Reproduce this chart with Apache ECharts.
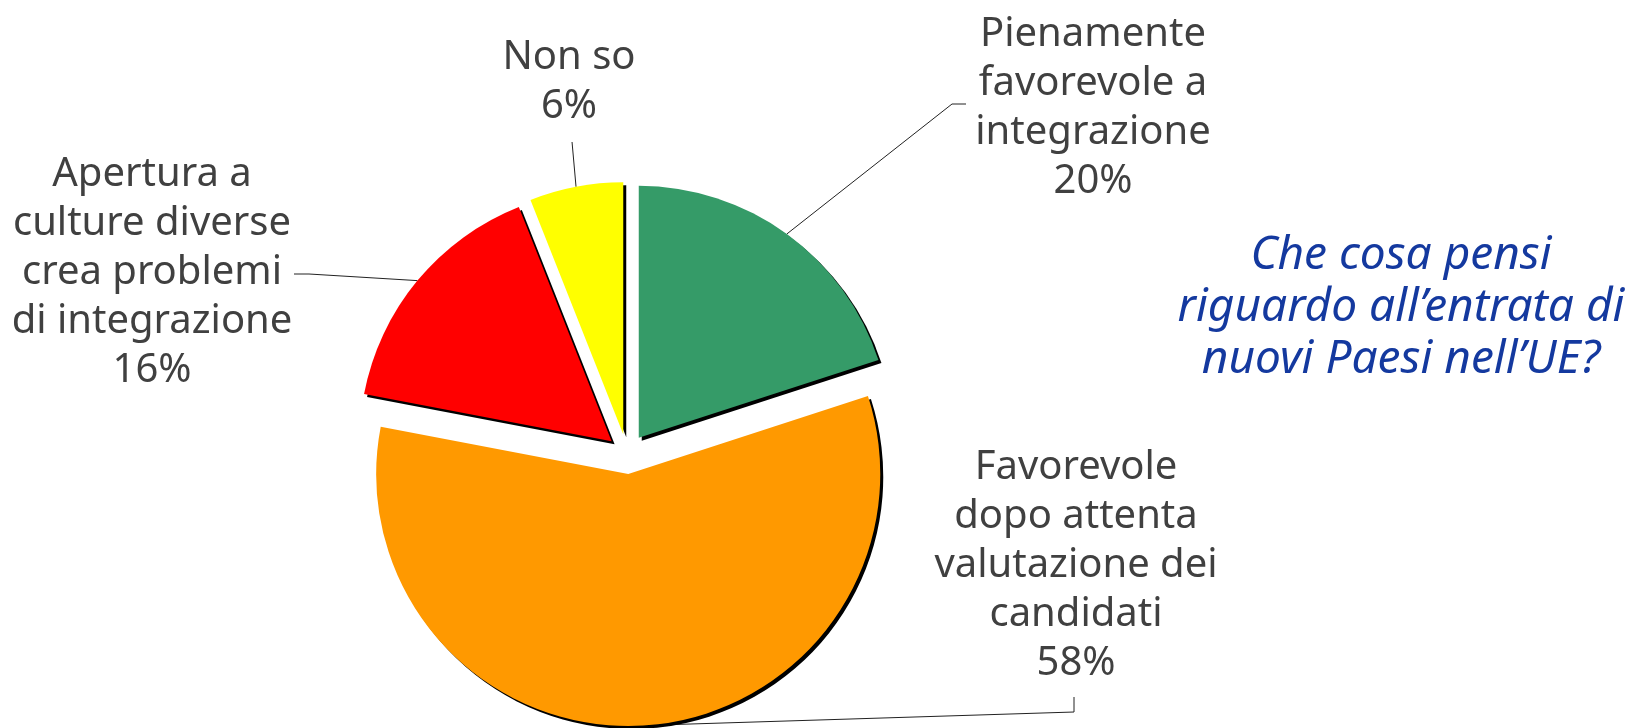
<!DOCTYPE html>
<html>
<head>
<meta charset="utf-8">
<script src="https://cdn.jsdelivr.net/npm/echarts@6/dist/echarts.min.js"></script>
<style>
  html, body { margin: 0; padding: 0; background: #fff; overflow: hidden; }
  #chart { width: 1627px; height: 728px; }
</style>
</head>
<body>
<div id="chart"></div>
<script>
// dati
var categories = [
  'Pienamente\nfavorevole a\nintegrazione',
  'Favorevole\ndopo attenta\nvalutazione dei\ncandidati',
  'Apertura a\nculture diverse\ncrea problemi\ndi integrazione',
  'Non so'
];
var values = [20, 58, 16, 6];
var colors = ['#359b68', '#ff9900', '#ff0000', '#ffff00'];
var question = 'Che cosa pensi\nriguardo all\u2019entrata di\nnuovi Paesi nell\u2019UE?';

// posizione etichette (centro del blocco) e pieghe delle linee guida
var labelPos = [[1093, 108], [1076, 566], [152, 273], [569, 82]];
var bends = [
  [[952, 104], [966, 104]],
  [[1074, 712], [1074, 697]],
  [[309, 274], [294, 274]],
  null
];
var selOffset = 20;

var myChart = echarts.init(document.getElementById('chart'));

var pieData = categories.map(function (name, i) {
  return { name: name, value: values[i], selected: true, itemStyle: { color: colors[i] } };
});

myChart.setOption({
  animation: false,
  backgroundColor: '#fff',
  title: {
    text: question,
    left: 1396,
    top: 225,
    textAlign: 'center',
    textStyle: {
      fontFamily: 'Noto Sans',
      fontStyle: 'italic',
      fontWeight: 'normal',
      fontSize: 46,
      lineHeight: 52,
      color: '#14399f'
    }
  },
  series: [{
    type: 'pie',
    center: [627, 454],
    radius: 252,
    startAngle: 90,
    clockwise: true,
    selectedMode: 'multiple',
    selectedOffset: selOffset,
    emphasis: { disabled: true },
    itemStyle: {
      shadowColor: '#000',
      shadowBlur: 0,
      shadowOffsetX: 3,
      shadowOffsetY: 3
    },
    label: { show: false },
    labelLine: { show: false },
    data: pieData
  }]
});

// etichette e linee guida, agganciate al layout calcolato dalla torta
var pdata = myChart.getModel().getSeriesByIndex(0).getData();
var graphics = [];
categories.forEach(function (name, i) {
  var l = pdata.getItemLayout(i);
  var mid = (l.startAngle + l.endAngle) / 2;
  var rr = l.r + selOffset;
  var sx = l.cx + rr * Math.cos(mid);
  var sy = l.cy + rr * Math.sin(mid);
  var pts = [[sx, sy]].concat(bends[i] || [[sx - 4, 142]]);
  graphics.push({
    type: 'polyline',
    silent: true,
    shape: { points: pts },
    style: { stroke: '#222', lineWidth: 1, fill: null }
  });
  graphics.push({
    type: 'text',
    silent: true,
    x: labelPos[i][0],
    y: labelPos[i][1],
    style: {
      text: name + '\n' + values[i] + '%',
      fill: '#404040',
      fontFamily: 'Noto Sans',
      fontSize: 40,
      lineHeight: 49,
      align: 'center',
      verticalAlign: 'middle'
    }
  });
});
myChart.setOption({ graphic: graphics });
</script>
</body>
</html>
